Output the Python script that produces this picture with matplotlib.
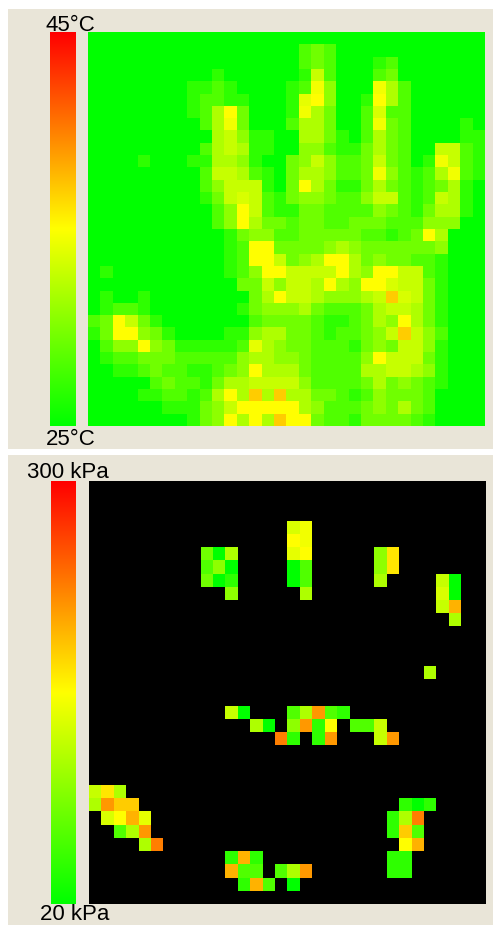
import numpy as np
import matplotlib
matplotlib.use("Agg")
import matplotlib.pyplot as plt
from matplotlib.colors import LinearSegmentedColormap
from matplotlib.patches import Rectangle

W, H = 493, 925
BG = "#E9E5D8"
plt.rcParams["font.family"] = ["Liberation Sans", "DejaVu Sans"]

# Levels per cell in base 16; 0 = bottom of scale, a = middle of scale.
TEMP_ROWS = [
    "0000000000 0000000000 0000000000 00",
    "0000000000 0000000232 0000000000 00",
    "0000000000 0000000232 0001200000 00",
    "0000000000 1000000162 0002300000 00",
    "0000000011 2100001294 0009520000 00",
    "0000000012 21100018a4 001a520000 00",
    "0000000012 5a30001953 0027220000 00",
    "0000000002 5930002553 0029320000 10",
    "0000000000 5641100553 1025320000 11",
    "0000000002 5651100442 1135320066 21",
    "0000100011 5541003464 2236320196 21",
    "0000000002 6652103554 2239421259 21",
    "0000000002 4666103a53 1135321235 10",
    "0000000001 3676213443 2246621265 10",
    "0000000000 24a6211332 2224321355 10",
    "0000000000 24a5332332 2333222444 00",
    "0000000000 0134422333 3322123a50 00",
    "0000000000 012aa33334 5433333340 00",
    "0000000000 012aa6345a a534332210 00",
    "0100000000 0124aa6666 a54aa66210 00",
    "0000000000 003364665a 54aa766310 00",
    "0100100000 00035a6654 4456c76310 00",
    "0122100000 0013444532 2235665310 00",
    "23a6310000 0002333321 12354a5310 00",
    "13aa431000 0114553321 22346c6420 00",
    "0244a43111 1128543322 2134366410 00",
    "0122333222 2245544322 224a666310 00",
    "0011232211 234a555322 2255665410 00",
    "0000023221 3556666422 2235343210 00",
    "0000112212 5a5c5c5533 2124333200 00",
    "0000001113 46aaaaa542 2234353200 00",
    "0000000013 4a5a5caa32 2133332100 00",
]

PRESSURE_ROWS = [
    ".......... .......... .......... ..",
    ".......... .......... .......... ..",
    ".......... .......... .......... ..",
    ".......... ......79.. .......... ..",
    ".......... ......a9.. .......... ..",
    ".........3 05....8a.. ...4b..... ..",
    ".........2 40....02.. ...4b..... ..",
    ".........3 01....02.. ...5....60 ..",
    ".......... .4.....5.. ........70 ..",
    ".......... .......... ........6d ..",
    ".......... .......... .........5 ..",
    ".......... .......... .......... ..",
    ".......... .......... .......... ..",
    ".......... .......... .......... ..",
    ".......... .......... .......5.. ..",
    ".......... .......... .......... ..",
    ".......... .......... .......... ..",
    ".......... .60...25e2 1......... ..",
    ".......... ...50.4e1a .226...... ..",
    ".......... .....f1.1e ...6e..... ..",
    ".......... .......... .......... ..",
    ".......... .......... .......... ..",
    ".......... .......... .......... ..",
    "6b5....... .......... .......... ..",
    "5ecc...... .......... .....101.. ..",
    ".7ad8..... .......... ....15f... ..",
    "..25e..... .......... ....1c2... ..",
    "....5f.... .......... .....ad... ..",
    ".......... .1d1...... ....11.... ..",
    ".......... .d22.25e.. ....11.... ..",
    ".......... ..1d2.0... .......... ..",
    ".......... .......... .......... ..",
]

# Position on the 0-20 scale that each level stands for.
LEVEL_VALUES = [0, 1.8, 3.2, 4.4, 5.6, 6.8, 7.8, 8.5,
                9, 9.5, 10, 11, 12, 13, 14, 15]

TEMP_MIN, TEMP_MAX = 25, 45
PRESS_MIN, PRESS_MAX = 20, 300
TEMP_LABELS = ["45°C", "25°C"]
PRESS_LABELS = ["300 kPa", "20 kPa"]
GRADIENT_COLORS = ["#00FF00", "#FFFF00", "#FF0000"]


def parse(rows):
    out = []
    for row in rows:
        out.append([np.nan if c == "." else LEVEL_VALUES[int(c, 16)]
                    for c in row.replace(" ", "")])
    return np.array(out, dtype=float)


temp = TEMP_MIN + parse(TEMP_ROWS) * (TEMP_MAX - TEMP_MIN) / 20
press = PRESS_MIN + parse(PRESSURE_ROWS) * (PRESS_MAX - PRESS_MIN) / 20

cmap = LinearSegmentedColormap.from_list("gyr", GRADIENT_COLORS, N=256)
cmap.set_bad("black")

fig = plt.figure(figsize=(W / 100, H / 100), dpi=100, facecolor="white")


def px_axes(x0, y0, x1, y1):
    ax = fig.add_axes([x0 / W, 1 - y1 / H, (x1 - x0) / W, (y1 - y0) / H])
    ax.set_axis_off()
    return ax


def px_text(x, y, s):
    fig.text(x / W, 1 - y / H, s, fontsize=16, color="black",
             ha="left", va="baseline", zorder=5)


fig.add_artist(Rectangle((8 / W, 1 - 449 / H), 485 / W, 440 / H,
                         transform=fig.transFigure, color=BG, lw=0, zorder=-1))
fig.add_artist(Rectangle((8 / W, 0), 485 / W, 470 / H,
                         transform=fig.transFigure, color=BG, lw=0, zorder=-1))

gradient = np.linspace(1, 0, 256).reshape(-1, 1)

ax = px_axes(50, 32, 76, 426)
ax.imshow(gradient, cmap=cmap, vmin=0, vmax=1, aspect="auto")
ax = px_axes(88, 32, 485, 426)
ax.imshow(np.ma.masked_invalid(temp), cmap=cmap, vmin=TEMP_MIN, vmax=TEMP_MAX,
          aspect="auto", interpolation="nearest")

ax = px_axes(51, 481, 76, 904)
ax.imshow(gradient, cmap=cmap, vmin=0, vmax=1, aspect="auto")
ax = px_axes(89, 481, 485, 904)
ax.imshow(np.ma.masked_invalid(press), cmap=cmap, vmin=PRESS_MIN, vmax=PRESS_MAX,
          aspect="auto", interpolation="nearest")

px_text(45, 31, TEMP_LABELS[0])
px_text(46, 445, TEMP_LABELS[1])
px_text(27, 478, PRESS_LABELS[0])
px_text(40, 920.5, PRESS_LABELS[1])

fig.savefig("out.png", dpi=100, facecolor="white")
